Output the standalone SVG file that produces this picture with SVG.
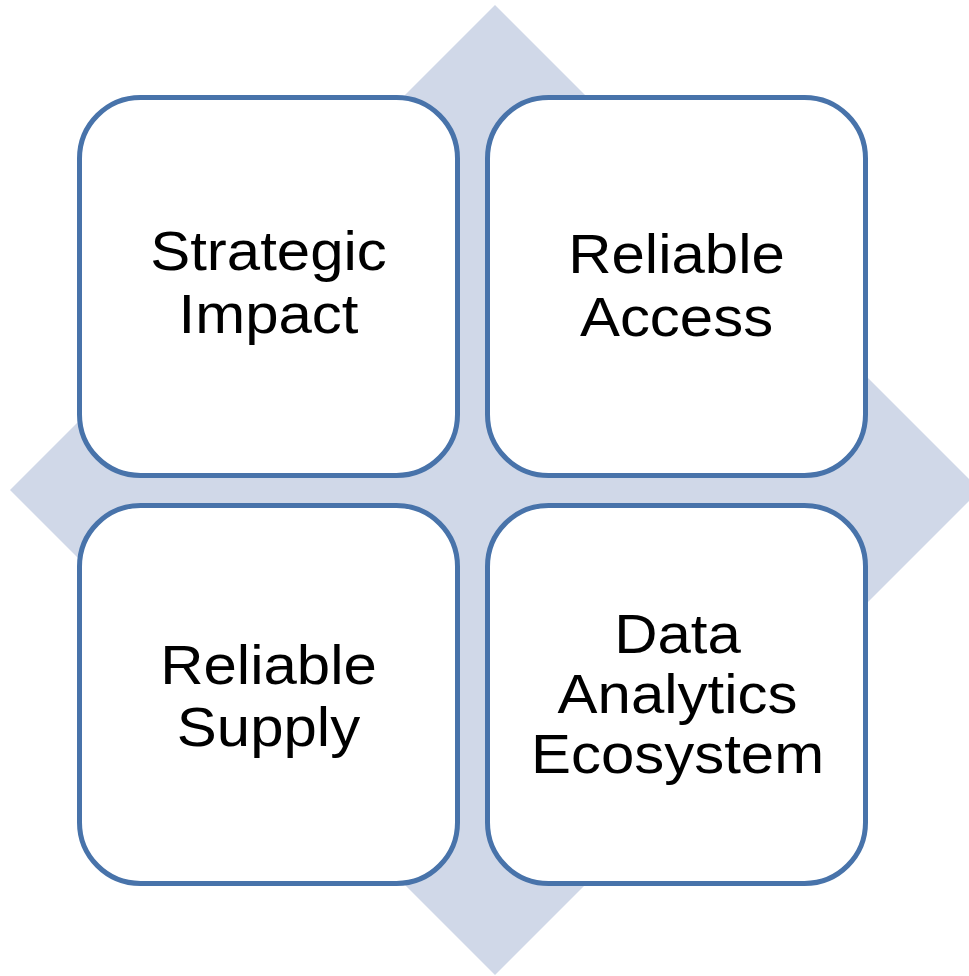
<svg xmlns="http://www.w3.org/2000/svg" width="969" height="976" viewBox="0 0 969 976">
<style>
.box{fill:#ffffff;stroke:#4873aa;stroke-width:5}
.lbl{font-family:"Liberation Sans",Arial,sans-serif;font-size:55px;fill:#000000;text-anchor:middle}
</style>
<rect width="969" height="976" fill="#ffffff"/>
<g id="background">
<polygon points="495,5 980,490 495,975 10,490" fill="#d0d8e8"/>
</g>
<g id="strategic-impact">
<rect class="box" x="79.5" y="97.5" width="378" height="378" rx="61" ry="61"/>
<g transform="translate(268.5,0) scale(1.09,1)">
<text class="lbl" x="0" y="270">Strategic</text>
<text class="lbl" x="0" y="333">Impact</text>
</g>
</g>
<g id="reliable-access">
<rect class="box" x="487.5" y="97.5" width="378" height="378" rx="61" ry="61"/>
<g transform="translate(676.5,0) scale(1.09,1)">
<text class="lbl" x="0" y="273">Reliable</text>
<text class="lbl" x="0" y="336">Access</text>
</g>
</g>
<g id="reliable-supply">
<rect class="box" x="79.5" y="505.5" width="378" height="378" rx="61" ry="61"/>
<g transform="translate(268.5,0) scale(1.09,1)">
<text class="lbl" x="0" y="684">Reliable</text>
<text class="lbl" x="0" y="746">Supply</text>
</g>
</g>
<g id="data-analytics-ecosystem">
<rect class="box" x="487.5" y="505.5" width="378" height="378" rx="61" ry="61"/>
<g transform="translate(677.5,0) scale(1.09,1)">
<text class="lbl" x="0" y="653">Data</text>
<text class="lbl" x="0" y="713">Analytics</text>
<text class="lbl" x="0" y="773">Ecosystem</text>
</g>
</g>
<g id="connectors"></g>
</svg>
